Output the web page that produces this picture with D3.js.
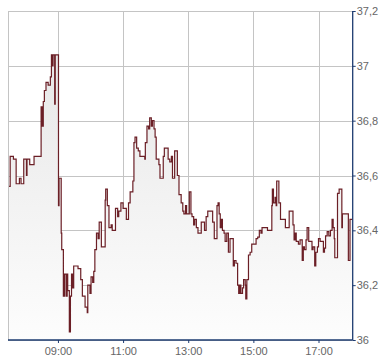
<!DOCTYPE html>
<html lang="en">
<head>
    <meta charset="UTF-8">
    <title>Intraday price</title>
    <style>
        body {
            margin: 0;
            background: #fff;
        }
        .tick text {
            font-family: "Liberation Sans", Arial, sans-serif;
            font-size: 11px;
            fill: #666;
        }
        .grid line {
            stroke: #c4c4c4;
            stroke-width: 1px;
        }
    </style>
</head>
<body>
    <svg id="chart" width="390" height="364"></svg>

    <script src="https://d3js.org/d3.v7.min.js"></script>
    <script>
        // trade times and prices
        const times = [
            "07:30","07:32","07:38","07:43","07:49","07:52","07:57","08:02","08:03","08:08",
            "08:16","08:29","08:31","08:33","08:35","08:38","08:42","08:46","08:48","08:49",
            "08:51","08:54","08:55","09:01","09:02","09:06","09:07","09:10","09:12","09:15",
            "09:17","09:18","09:21","09:23","09:25","09:27","09:29","09:37","09:42","09:45",
            "09:50","09:54","09:55","09:59","10:01","10:04","10:06","10:08","10:11","10:14",
            "10:16","10:20","10:27","10:28","10:31","10:34","10:38","10:40","10:46","10:50",
            "10:52","10:56","11:00","11:06","11:10","11:13","11:18","11:20","11:22","11:25",
            "11:28","11:31","11:40","11:41","11:44","11:47","11:49","11:52","11:54","11:57",
            "11:59","12:01","12:06","12:08","12:14","12:16","12:23","12:26","12:29","12:31",
            "12:35","12:40","12:43","12:47","12:50","12:52","12:55","12:57","13:02","13:05",
            "13:07","13:10","13:12","13:15","13:18","13:24","13:30","13:33","13:36","13:45",
            "13:48","13:53","13:55","13:57","13:59","14:01","14:03","14:06","14:08","14:11",
            "14:14","14:17","14:23","14:25","14:28","14:31","14:33","14:35","14:37","14:40",
            "14:42","14:45","14:46","14:48","14:51","14:54","14:57","15:05","15:08","15:11",
            "15:14","15:16","15:26","15:34","15:35","15:37","15:40","15:42","15:43","15:47",
            "15:50","15:59","16:06","16:13","16:15","16:17","16:19","16:23","16:26","16:30",
            "16:32","16:34","16:37","16:39","16:42","16:48","16:50","16:53","16:55","16:58",
            "17:00","17:03","17:09","17:11","17:13","17:16","17:19","17:22","17:25","17:27",
            "17:29","17:30","17:35","17:38","17:43","17:44","17:55","17:58","18:02"
        ];
        const prices = [
            36.56,36.67,36.66,36.57,36.59,36.57,36.66,36.60,36.66,36.64,
            36.67,36.85,36.78,36.87,36.91,36.94,36.93,36.96,37.04,37.00,
            37.04,36.86,37.04,36.49,36.59,36.39,36.33,36.16,36.24,36.16,
            36.24,36.18,36.03,36.16,36.24,36.19,36.27,36.26,36.22,36.16,
            36.12,36.10,36.20,36.17,36.23,36.21,36.25,36.33,36.39,36.37,
            36.43,36.34,36.51,36.55,36.49,36.41,36.42,36.40,36.48,36.45,
            36.47,36.50,36.48,36.44,36.50,36.54,36.58,36.72,36.74,36.70,
            36.69,36.67,36.66,36.72,36.78,36.77,36.81,36.78,36.80,36.77,
            36.74,36.66,36.64,36.59,36.67,36.70,36.66,36.65,36.67,36.59,
            36.69,36.60,36.53,36.50,36.47,36.46,36.49,36.46,36.54,36.46,
            36.45,36.42,36.44,36.41,36.39,36.43,36.40,36.45,36.47,36.43,
            36.37,36.49,36.50,36.46,36.41,36.44,36.40,36.39,36.36,36.39,
            36.32,36.37,36.27,36.29,36.28,36.20,36.17,36.20,36.17,36.19,
            36.22,36.20,36.15,36.22,36.31,36.32,36.35,36.37,36.375,36.40,
            36.39,36.41,36.40,36.49,36.55,36.50,36.52,36.49,36.58,36.50,
            36.44,36.41,36.47,36.42,36.365,36.39,36.36,36.35,36.365,36.29,
            36.34,36.33,36.365,36.41,36.36,36.33,36.34,36.27,36.32,36.34,
            36.37,36.36,36.32,36.335,36.38,36.395,36.38,36.40,36.44,36.41,
            36.37,36.30,36.535,36.55,36.41,36.46,36.29,36.44,36.44
        ];
        const yTicks = [36, 36.2, 36.4, 36.6, 36.8, 37, 37.2];
        const xTickLabels = ["09:00", "11:00", "13:00", "15:00", "17:00"];
        const timeRange = ["07:28", "18:03"];

        const parseTime = d3.timeParse("%H:%M");
        const data = times.map((t, i) => ({ t: parseTime(t), v: prices[i] }));

        const svg = d3.select("#chart");
        const plotLeft = 8, plotRight = 352.7, plotTop = 11, plotBottom = 340;

        const x = d3.scaleTime()
            .domain(timeRange.map(parseTime))
            .range([plotLeft, plotRight]);
        const y = d3.scaleLinear()
            .domain([36, 37.2])
            .range([plotBottom, plotTop]);

        const comma = d3.formatLocale({ decimal: ",", thousands: ".", grouping: [3], currency: ["", "€"] });
        const fmtY = comma.format("~g");

        // gradient under the line
        const grad = svg.append("defs").append("linearGradient")
            .attr("id", "fillGrad")
            .attr("gradientUnits", "userSpaceOnUse")
            .attr("x1", 0).attr("y1", plotTop).attr("x2", 0).attr("y2", plotBottom);
        grad.append("stop").attr("offset", "0%").attr("stop-color", "#e4e4e4");
        grad.append("stop").attr("offset", "100%").attr("stop-color", "#fdfdfd");

        // grid
        const grid = svg.append("g").attr("class", "grid");
        grid.selectAll("line.h")
            .data(yTicks)
            .join("line")
            .attr("class", "h")
            .attr("x1", plotLeft).attr("x2", plotRight)
            .attr("y1", d => Math.round(y(d)) + 0.5)
            .attr("y2", d => Math.round(y(d)) + 0.5);
        grid.selectAll("line.v")
            .data(xTickLabels.map(parseTime))
            .join("line")
            .attr("class", "v")
            .attr("x1", d => Math.round(x(d)) + 0.5)
            .attr("x2", d => Math.round(x(d)) + 0.5)
            .attr("y1", plotTop).attr("y2", plotBottom);
        grid.append("line")
            .attr("x1", plotLeft + 0.5).attr("x2", plotLeft + 0.5)
            .attr("y1", plotTop).attr("y2", plotBottom);

        // area + step line
        const area = d3.area()
            .curve(d3.curveStepAfter)
            .x(d => x(d.t))
            .y0(plotBottom)
            .y1(d => y(d.v));
        const line = d3.line()
            .curve(d3.curveStepAfter)
            .x(d => x(d.t))
            .y(d => y(d.v));

        svg.append("path")
            .datum(data)
            .attr("d", area)
            .attr("fill", "url(#fillGrad)");
        svg.append("path")
            .datum(data)
            .attr("d", line)
            .attr("fill", "none")
            .attr("stroke", "#6b1f26")
            .attr("stroke-width", 1.2);

        // axes
        const axisColor = "#1d3b70";
        const yAxis = svg.append("g")
            .attr("transform", `translate(${plotRight},0)`)
            .call(d3.axisRight(y).tickValues(yTicks).tickSize(3).tickPadding(1).tickFormat(fmtY));
        const xAxis = svg.append("g")
            .attr("transform", `translate(0,${plotBottom})`)
            .call(d3.axisBottom(x).tickValues(xTickLabels.map(parseTime)).tickSize(3).tickPadding(4)
                .tickFormat(d3.timeFormat("%H:%M")));

        [yAxis, xAxis].forEach(a => {
            a.select(".domain").attr("stroke", axisColor).attr("stroke-width", 1.3);
            a.selectAll(".tick line").attr("stroke", axisColor);
        });
        yAxis.select(".domain").attr("d", `M0,${plotTop}V${plotBottom}`);
        xAxis.select(".domain").attr("d", `M${plotLeft},0H${plotRight}`);
    </script>
</body>
</html>
